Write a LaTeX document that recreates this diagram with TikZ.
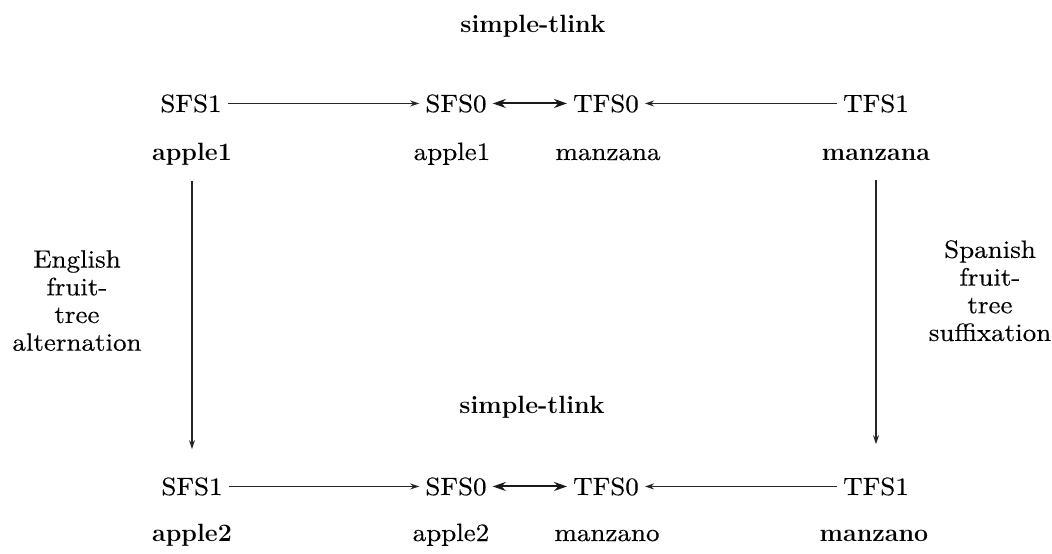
\documentclass[tikz,border=0pt]{standalone}
\usepackage{fontspec}
\newfontfamily\rmheavy{lmroman10-regular.otf}[FakeBold=0.3, FakeStretch=1.08]
\usetikzlibrary{arrows.meta}
\tikzset{
  lab/.style={anchor=base, inner xsep=6pt, inner ysep=0pt, font=\fontsize{25}{27.7}\selectfont\rmheavy},
  blab/.style={anchor=base, inner xsep=6pt, inner ysep=0pt, font=\fontsize{25}{27.7}\selectfont\bfseries},
  side/.style={anchor=north, inner sep=0pt, align=center, font=\fontsize{25}{27.7}\selectfont\rmheavy},
  arr/.style={-{Stealth[length=9pt,width=6pt]}, line width=1.2pt, draw=black!85},
  dbl/.style={{Stealth[length=13pt,width=9pt]}-{Stealth[length=13pt,width=9pt]}, line width=2pt, draw=black!90}
}
\begin{document}
\begin{tikzpicture}[x=1pt,y=-1pt]
\path[use as bounding box] (0,0) rectangle (1052,554);
% top half
\node[blab] (tl1) at (533,32) {simple-tlink};
\node[lab] (s1a) at (191,112) {SFS1};
\node[lab] (s0a) at (456,112) {SFS0};
\node[lab] (t0a) at (606,112) {TFS0};
\node[lab] (t1a) at (876,112) {TFS1};
\node[blab] (a1L) at (192,160) {apple1};
\node[lab] (a1M) at (452,160) {apple1};
\node[lab] (mzaM) at (608,160) {manzana};
\node[blab] (mzaR) at (876,160) {manzana};
% bottom half
\node[blab] (tl2) at (532,413) {simple-tlink};
\node[lab] (s1b) at (192,495) {SFS1};
\node[lab] (s0b) at (456,495) {SFS0};
\node[lab] (t0b) at (606,495) {TFS0};
\node[lab] (t1b) at (876,495) {TFS1};
\node[blab] (a2L) at (192,541) {apple2};
\node[lab] (a2M) at (451,541) {apple2};
\node[lab] (mzoM) at (607,541) {manzano};
\node[blab] (mzoR) at (874,541) {manzano};
% side labels
\node[side] (eng) at (77,250) {English\\fruit-\\tree\\alternation};
\node[side] (spa) at (990,240) {Spanish\\fruit-\\tree\\suffixation};
% connectors
\draw[arr] (s1a.east) -- (s0a.west);
\draw[dbl] (s0a.east) -- (t0a.west);
\draw[arr] (t1a.west) -- (t0a.east);
\draw[arr] (s1b.east) -- (s0b.west);
\draw[dbl] (s0b.east) -- (t0b.west);
\draw[arr] (t1b.west) -- (t0b.east);
\draw[arr] ([yshift=-16pt]a1L.south) -- ([yshift=28pt]s1b.north);
\draw[arr] ([yshift=-20pt]mzaR.south) -- ([yshift=33pt]t1b.north);
\end{tikzpicture}
\end{document}
